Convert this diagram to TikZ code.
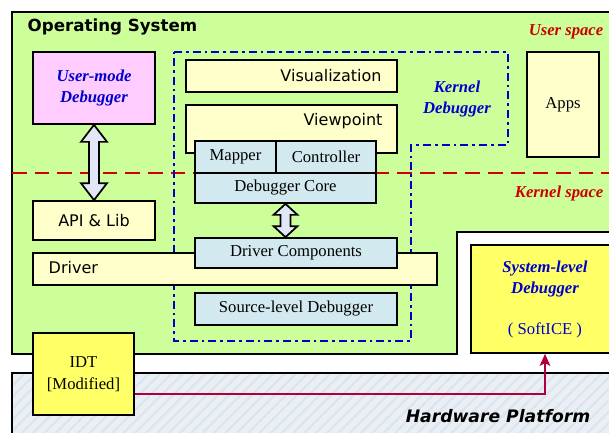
\documentclass[tikz,border=0pt]{standalone}
\usepackage{fontspec}
\setmainfont{Liberation Serif}
\setsansfont{DejaVu Sans}
\usetikzlibrary{calc, arrows.meta, patterns.meta}
\definecolor{osgreen}{HTML}{CCFF99}
\definecolor{boxcream}{HTML}{FFFFCC}
\definecolor{boxpink}{HTML}{FFCCFF}
\definecolor{boxblue}{HTML}{D3E9F0}
\definecolor{idtyellow}{HTML}{FFFF66}
\definecolor{kdblue}{HTML}{0000CC}
\definecolor{spacered}{HTML}{CC0000}
\definecolor{hwgray}{HTML}{EDEDF4}
\definecolor{hwhatch}{HTML}{D6E7EF}
\definecolor{sigred}{HTML}{B0003A}
\definecolor{arrowfill}{HTML}{E2E7F8}

\tikzset{
  span/.style args={#1/#2/#3/#4}{minimum width={(#3-#1)*0.75pt}, minimum height={(#4-#2)*0.75pt},
    at={({(#1+#3)/2},{(#2+#4)/2})}},
  blk/.style={draw=black, line width=1.3pt, inner sep=0pt},
  cream/.style={blk, fill=boxcream, font=\sffamily\fontsize{12}{14}\selectfont},
  lite/.style={blk, fill=boxblue, font=\fontsize{12.5}{15}\selectfont},
  sanstxt/.style={font=\sffamily\fontsize{12}{14}\selectfont},
  bluetxt/.style={text=kdblue, align=center, font=\bfseries\itshape\fontsize{12.5}{15.5}\selectfont},
  redtxt/.style={text=spacered, font=\bfseries\itshape\fontsize{12.5}{15}\selectfont},
  fatarr/.style={draw=black, fill=arrowfill, line width=1.3pt, line join=miter},
  sigline/.style={sigred, line width=1.2pt, -{Stealth[length=9pt, width=8pt, inset=2pt]}},
}
% two-headed block arrow: top tip, bottom tip, head half width, shaft half width, head length
\newcommand\twoway[5]{%
  \draw[fatarr] (#1) -- ++(#3,#5) -- ++(#4-#3,0) -- ($(#2)+(#4,-#5)$) -- ++(#3-#4,0) -- (#2)
    -- ++(-#3,-#5) -- ++(#3-#4,0) -- ($(#1)+(-#4,#5)$) -- ++(#4-#3,0) -- cycle;}

\begin{document}
\begin{tikzpicture}[x=0.75pt, y=-0.75pt]
  \useasboundingbox (0,0) rectangle (609,432);
  % Hardware platform
  \fill[hwgray] (12,373) rectangle (620,440);
  \path[pattern={Lines[angle=45, distance=6pt, line width=1.6pt]}, pattern color=hwhatch] (12,373) rectangle (620,440);
  \draw[line width=1.3pt] (12,440) -- (12,373) -- (620,373);
  \node[font=\sffamily\bfseries\itshape\fontsize{12.9}{15}\selectfont] (hwlbl) at (498,416) {Hardware Platform};
  % Operating system
  \draw[fill=osgreen, line width=1.3pt] (620,12) -- (12,12) -- (12,354) -- (457,354) -- (457,232) -- (620,232);
  \node[anchor=west, font=\sffamily\bfseries\fontsize{12.5}{14}\selectfont] (oslbl) at (23,27) {Operating System};
  \draw[spacered, line width=1.5pt, dash pattern=on 11pt off 6pt] (12,173) -- (620,173);
  \node[redtxt, anchor=east] (uslbl) at (608,32) {User space};
  \node[redtxt, anchor=east] (kslbl) at (608,193) {Kernel space};
  % Kernel debugger
  \draw[kdblue, line width=1.5pt, dash pattern=on 6pt off 3pt on 2pt off 3pt]
    (174,52) -- (508,52) -- (508,145) -- (411,145) -- (411,341) -- (174,341) -- cycle;
  \node[bluetxt] (kdlbl) at (457,99) {Kernel\\Debugger};
  \node[cream, span=186/60/397/92] (vis) {};
  \node[sanstxt] (vislbl) at (331,76) {Visualization};
  \node[cream, span=186/105/397/153] (vp) {};
  \node[sanstxt] (vplbl) at (343,121) {Viewpoint};
  \node[lite, span=195/141/276/173] (map) {Mapper};
  \node[lite, span=276/141/376/173] (ctl) {Controller};
  \node[lite, span=195/173/376/203] (core) {Debugger Core};
  % User mode and driver
  \node[cream, fill=boxpink, span=33/52/155/124, bluetxt] (umd) {User-mode\\Debugger};
  \node[cream, span=33/201/155/240] (api) {API \& Lib};
  \node[cream, span=33/253/437/285] (drv) {};
  \node[sanstxt, anchor=west] (drvlbl) at (44,268) {Driver};
  \node[lite, span=195/238/397/268] (drvc) {Driver Components};
  \node[lite, span=195/293/397/325] (srcdbg) {Source-level Debugger};
  \node[cream, font=\fontsize{12.5}{15}\selectfont, span=527/52/599/157] (apps) {Apps};
  \twoway{umd.south}{api.north}{13}{5}{17}
  \coordinate (corebot) at (core.south |- drvc.north);
  \twoway{core.south}{corebot}{12}{5}{11}
  % System-level debugger and IDT
  \node[blk, fill=idtyellow, span=471/245/619/353] (sld) {};
  \node[bluetxt] (sldlbl) at (545,279) {System-level\\Debugger};
  \node[text=kdblue, font=\fontsize{12.5}{15}\selectfont] (sice) at (545,330) {( SoftICE )};
  \node[blk, fill=idtyellow, span=33/333/134/415, align=center, font=\fontsize{12.5}{16.5}\selectfont] (idt) {IDT\\{[Modified]}};
  \draw[sigline] ([yshift=-15pt]idt.east) -| (sld.south);
\end{tikzpicture}
\end{document}
